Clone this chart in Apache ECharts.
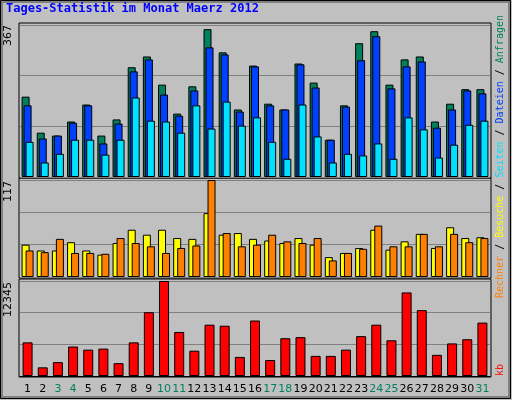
<!DOCTYPE html>
<html><head><meta charset="utf-8">
<script src="https://cdn.jsdelivr.net/npm/echarts@6/dist/echarts.min.js"></script>
<style>html,body{margin:0;padding:0;background:#c0c0c0}#c{width:512px;height:400px}</style>
</head><body><div id="c"></div>
<script>
const days = Array.from({length:31},(_,i)=>String(i+1));
const weekend = ['3','4','10','11','17','18','24','25','31'];
const anfragen = [194,107,100,134,175,100,139,265,291,223,153,219,357,301,163,269,177,163,274,228,90,173,323,352,223,284,291,134,177,212,212];
const dateien  = [173,93,100,131,173,81,129,255,284,199,148,209,313,296,158,267,173,163,272,216,90,170,282,340,214,267,279,119,163,209,202];
const seiten   = [85,35,56,90,90,54,90,192,136,134,107,173,117,182,124,144,85,44,175,98,35,56,52,81,44,144,115,47,78,126,136];
const besuche  = [39,32,32,42,32,27,41,57,51,57,47,46,77,51,53,46,44,41,47,39,24,29,35,57,33,43,52,35,60,47,48];
const rechner  = [32,30,46,29,29,28,47,41,37,29,35,38,117,53,37,39,51,43,41,47,20,29,34,62,37,37,52,37,52,42,47];
const kb = [4370,1126,1802,3830,3424,3559,1667,4370,8290,12345,5722,3289,6668,6533,2478,7209,2072,4911,5046,2613,2613,3424,5181,6668,4641,10858,8560,2748,4235,4776,6938];
const maxes = [367,117,12345];

const grids = [{left:20,right:22,top:25,height:152},{left:20,right:22,top:180,height:97},{left:20,right:22,top:281,height:95}];
const xAxes = grids.map((g,i)=>({type:'category',gridIndex:i,data:days,
  axisLine:{show:i===2,lineStyle:{color:'#000'}},axisTick:{show:false},
  axisLabel:{show:i===2,interval:0,margin:8,fontFamily:'DejaVu Sans',fontSize:11,
    color:(v)=>weekend.includes(v)?'#00805c':'#000'}}));
const yAxes = maxes.map((m,i)=>({type:'value',gridIndex:i,min:0,max:m,interval:m/3,
  axisLabel:{show:false},axisLine:{show:false},axisTick:{show:false},
  splitLine:{lineStyle:{color:'#808080',width:1}}}));
const bs = {borderColor:'#000',borderWidth:1};
const series = [
  {type:'bar',xAxisIndex:0,yAxisIndex:0,data:anfragen,barWidth:8,barGap:'-75%',itemStyle:{color:'#00805c',...bs}},
  {type:'bar',xAxisIndex:0,yAxisIndex:0,data:dateien,barWidth:8,barGap:'-75%',itemStyle:{color:'#0040ff',...bs}},
  {type:'bar',xAxisIndex:0,yAxisIndex:0,data:seiten,barWidth:8,barGap:'-75%',itemStyle:{color:'#00e0ff',...bs}},
  {type:'bar',xAxisIndex:1,yAxisIndex:1,data:besuche,barWidth:8,barGap:'-50%',itemStyle:{color:'#ffff00',...bs}},
  {type:'bar',xAxisIndex:1,yAxisIndex:1,data:rechner,barWidth:8,barGap:'-50%',itemStyle:{color:'#ff8000',...bs}},
  {type:'bar',xAxisIndex:2,yAxisIndex:2,data:kb,barWidth:10,itemStyle:{color:'#ff0000',...bs}}
];
const panelRects = grids.map(g=>({type:'rect',shape:{x:g.left-1,y:g.top-2,width:512-g.left-g.right+2,height:g.height+3},
  style:{fill:'none',stroke:'#000',lineWidth:1},z:-1}));
const ytxt = (t,y)=>({type:'text',x:8,y:y,rotation:Math.PI/2,style:{text:t,fontFamily:'DejaVu Sans',fontSize:11,fill:'#000',align:'right',verticalAlign:'middle'}});
const chart = echarts.init(document.getElementById('c'));
chart.setOption({
  animation:false,backgroundColor:'#c0c0c0',
  grid:grids,xAxis:xAxes,yAxis:yAxes,series:series,
  graphic:[
    {type:'rect',shape:{x:0.5,y:0.5,width:510,height:398},style:{fill:'none',stroke:'#000',lineWidth:1},z:-2},
    {type:'rect',shape:{x:2,y:2,width:507,height:395},style:{fill:'none',stroke:'#808080',lineWidth:2},z:-2},
    ...panelRects,
    {type:'text',x:6,y:9,style:{text:'Tages-Statistik im Monat Maerz 2012',fontFamily:'DejaVu Sans Mono',fontWeight:'bold',fontSize:12,fill:'#0000ff',verticalAlign:'middle'}},
    ytxt('367',25),ytxt('117',181),ytxt('12345',282),
    {type:'text',x:500,y:376,rotation:Math.PI/2,style:{text:'kb',fontFamily:'DejaVu Sans Mono',fontSize:10,fill:'#ff0000',align:'left',verticalAlign:'middle'}},
    {type:'text',x:500,y:298,rotation:Math.PI/2,style:{
      text:'{o|Rechner} {k|/} {y|Besuche} {k|/} {c|Seiten} {k|/} {b|Dateien} {k|/} {g|Anfragen}',
      align:'left',verticalAlign:'middle',fontFamily:'DejaVu Sans Mono',fontSize:10,
      rich:{o:{fill:'#ff8000',fontFamily:'DejaVu Sans Mono',fontSize:10},y:{fill:'#ffff00',fontFamily:'DejaVu Sans Mono',fontSize:10},
        c:{fill:'#00e0ff',fontFamily:'DejaVu Sans Mono',fontSize:10},b:{fill:'#0040ff',fontFamily:'DejaVu Sans Mono',fontSize:10},
        g:{fill:'#00805c',fontFamily:'DejaVu Sans Mono',fontSize:10},k:{fill:'#000',fontFamily:'DejaVu Sans Mono',fontSize:10}}}}
  ]
});
</script></body></html>
